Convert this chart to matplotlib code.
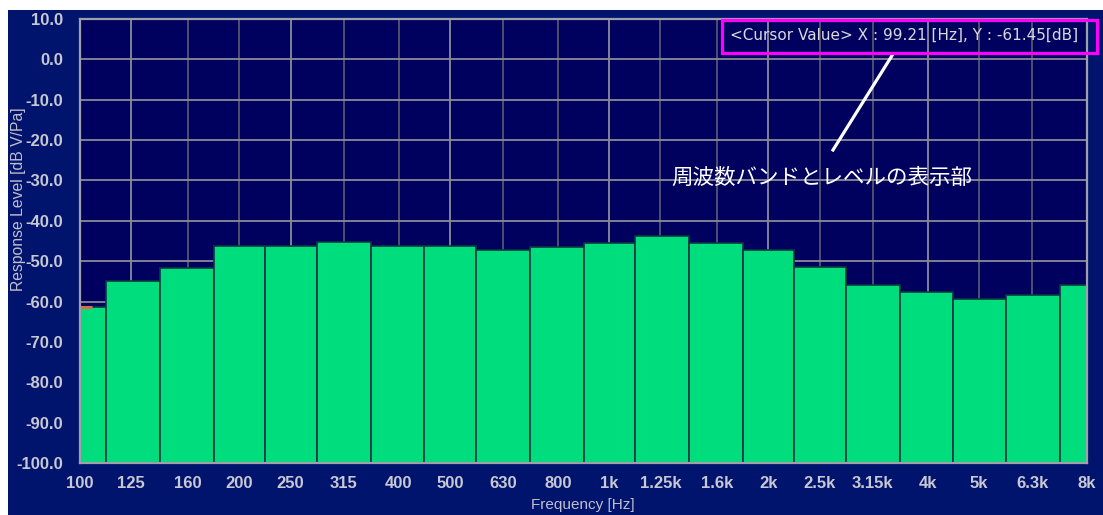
import numpy as np
import matplotlib
matplotlib.use("Agg")
import matplotlib.pyplot as plt
from matplotlib.patches import Rectangle
from matplotlib.lines import Line2D

# 1/3-octave band centre frequencies (nominal) and their labels
band_centers = [100, 125, 160, 200, 250, 315, 400, 500, 630, 800,
                1000, 1250, 1600, 2000, 2500, 3150, 4000, 5000, 6300, 8000]
band_labels = ['100', '125', '160', '200', '250', '315', '400', '500', '630', '800',
               '1k', '1.25k', '1.6k', '2k', '2.5k', '3.15k', '4k', '5k', '6.3k', '8k']
# response level per band [dB V/Pa]
band_levels = [-61.45, -54.9, -51.7, -46.2, -46.2, -45.2, -46.2, -46.2, -47.2, -46.5,
               -45.5, -43.8, -45.5, -47.2, -51.4, -55.9, -57.6, -59.3, -58.3, -55.9]
octave_bands = [125, 250, 500, 1000, 2000, 4000, 8000]

y_ticks = [10, 0, -10, -20, -30, -40, -50, -60, -70, -80, -90, -100]
y_min, y_max = -100, 10

cursor_freq = 99.21
cursor_level = -61.45

W, H = 1103, 515
fig = plt.figure(figsize=(W / 100, H / 100), dpi=100)
fig.patch.set_facecolor('white')

def fx(px):
    return px / W

def fy(py):
    return 1 - py / H

# outer blue panel
fig.patches.append(Rectangle((fx(8), 0), 1 - fx(8), fy(10), transform=fig.transFigure,
                             facecolor='#00146e', edgecolor='none', zorder=-10))

ax = fig.add_axes([fx(80), fy(463), fx(1087) - fx(80), fy(19) - fy(463)])
ax.set_facecolor('#00005e')
ax.set_xscale('log')
ax.set_xlim(100, 8000)
ax.set_ylim(y_min, y_max)

# band edges: geometric means between neighbouring centres
c = np.array(band_centers, dtype=float)
inner = np.sqrt(c[:-1] * c[1:])
edges = np.concatenate([[c[0] ** 2 / inner[0]], inner, [c[-1] ** 2 / inner[-1]]])
lefts = edges[:-1]
widths = edges[1:] - edges[:-1]
heights = np.array(band_levels) - y_min

# grid
ax.set_axisbelow(True)
ax.yaxis.grid(True, color='#8a8a98', linewidth=1.3, zorder=0)
for f in band_centers[1:-1]:
    col = '#8c8c9c' if f in octave_bands else '#55556e'
    ax.axvline(f, color=col, linewidth=1.3, zorder=0.5)

ax.bar(lefts, heights, width=widths, bottom=y_min, align='edge',
       color='#00dd7d', edgecolor='#0a3a40', linewidth=1.2, zorder=2)

# cursor marker
ax.plot([100, 105.5], [cursor_level, cursor_level], color='#e06a48', linewidth=2.2,
        zorder=3, solid_capstyle='butt')

ax.set_xticks(band_centers)
ax.set_xticklabels(band_labels)
ax.xaxis.set_minor_locator(matplotlib.ticker.NullLocator())
ax.set_yticks(y_ticks)
ax.set_yticklabels([f'{v:.1f}' for v in y_ticks])
ax.tick_params(axis='both', length=0, colors='#c8c8d2', labelsize=12)
ax.tick_params(axis='y', pad=12)
ax.tick_params(axis='x', pad=9)
for lab in ax.get_xticklabels() + ax.get_yticklabels():
    lab.set_fontweight('bold')
    lab.set_fontfamily('Liberation Sans')

for sp in ax.spines.values():
    sp.set_color('#a0a0a8')
    sp.set_linewidth(1.6)
    sp.set_zorder(4)

# axis titles
fig.text(fx(583), fy(505), 'Frequency [Hz]', ha='center', va='center',
         color='#c0c0cc', fontsize=11, family='Liberation Sans')
fig.text(fx(19), fy(199), 'Response Level [dB V/Pa]', ha='center', va='center',
         rotation=90, color='#c0c0cc', fontsize=11.3, family='Liberation Sans')

# cursor readout with highlight box
fig.text(fx(904), fy(35), f'<Cursor Value> X : {cursor_freq:.2f} [Hz], Y : {cursor_level:.2f}[dB]',
         ha='center', va='center', color='#dadada', fontsize=11, family='DejaVu Sans')
fig.patches.append(Rectangle((fx(722), fy(53)), fx(1097) - fx(722), fy(20) - fy(53),
                             transform=fig.transFigure, fill=False,
                             edgecolor='#ff00ff', linewidth=2.3, zorder=10))

# pointer and caption
fig.lines.append(Line2D([fx(893), fx(833)], [fy(54), fy(150)], transform=fig.transFigure,
                        color='white', linewidth=2.3, zorder=10))
fig.text(fx(822), fy(178), '周波数バンドとレベルの表示部', ha='center', va='center',
         color='white', fontsize=15.5, family=['Noto Sans CJK JP', 'DejaVu Sans'], zorder=10)

fig.savefig('out.png', dpi=100)
